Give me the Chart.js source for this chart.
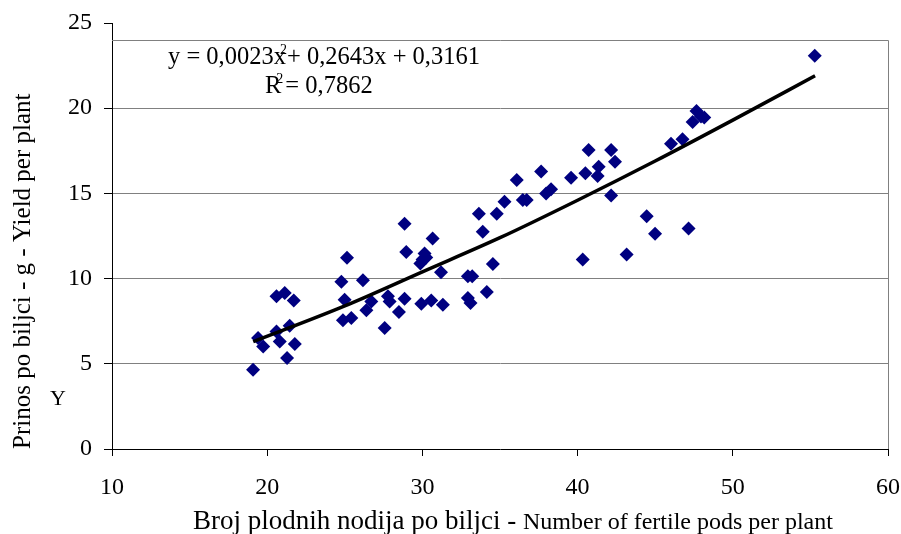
<!DOCTYPE html>
<html>
<head>
<meta charset="utf-8">
<script src="https://cdn.jsdelivr.net/npm/chart.js@4"></script>
<style>
  body { margin: 0; background: #fff; }
  #wrap { width: 901px; height: 534px; }
</style>
</head>
<body>
<div id="wrap"><canvas id="scatterChart"></canvas></div>
<script>
// number of fertile pods per plant (x) vs yield per plant in g (y)
const podsX = [19.09, 19.41, 19.74, 20.60, 20.60, 20.81, 21.13, 21.28, 21.45, 21.71, 21.78,
  24.78, 24.88, 24.99, 25.14, 25.42, 26.17, 26.39, 26.71, 27.57, 27.78, 27.89, 28.49,
  28.85, 28.96, 28.85, 29.93, 29.87, 30.14, 30.25, 30.01, 30.66, 30.57, 31.20, 31.32,
  32.93, 33.21, 32.93, 33.10, 34.15, 34.54, 33.64, 33.89, 34.79, 35.29, 36.08, 36.47,
  36.72, 37.65, 37.97, 38.29, 39.58, 40.33, 40.50, 40.71, 41.29, 41.36, 42.16, 42.16,
  42.41, 43.16, 44.45, 44.99, 46.02, 46.76, 47.15, 47.41, 47.66, 47.95, 48.16, 55.28];
const yieldY = [4.65, 6.51, 6.02, 8.96, 6.90, 6.31, 9.16, 5.34, 7.24, 8.72, 6.16,
  9.81, 7.55, 8.76, 11.22, 7.69, 9.90, 8.14, 8.66, 7.10, 8.96, 8.66, 8.04,
  13.22, 11.56, 8.82, 8.53, 10.88, 11.47, 11.24, 11.12, 12.35, 8.72, 10.37, 8.47,
  10.14, 10.14, 8.86, 8.57, 9.22, 10.86, 13.81, 12.75, 13.81, 14.51, 15.78, 14.61,
  14.61, 16.28, 15.00, 15.24, 15.92, 11.12, 16.18, 17.55, 16.02, 16.57, 17.55, 14.88,
  16.86, 11.41, 13.66, 12.63, 17.92, 18.18, 12.94, 19.19, 19.84, 19.51, 19.45, 23.08];

// trend line
const trendX = [19.1, 25, 30, 35, 40, 45, 50, 55.3];
const trendY = [6.3, 8.4, 10.4, 12.4, 14.6, 16.9, 19.3, 21.9];

const xTicks = [10, 20, 30, 40, 50, 60];
const yTicks = [0, 5, 10, 15, 20, 25];

const eqParts = ['y = 0,0023x', '2', '+ 0,2643x + 0,3161'];
const r2Parts = ['R', '2', '= 0,7862'];
const xTitleParts = ['Broj plodnih nodija po biljci - ', 'Number of fertile pods per plant'];
const yTitle = 'Prinos po biljci - g - Yield per plant';

const serif = "'Liberation Serif', 'Times New Roman', serif";

// plot frame + equation + x title
const extras = {
  id: 'extras',
  beforeDatasetsDraw(chart) {
    const {ctx, chartArea, scales} = chart;
    const yTop = Math.round(scales.y.getPixelForValue(24));
    ctx.save();
    ctx.strokeStyle = '#808080';
    ctx.lineWidth = 1;
    ctx.beginPath();
    ctx.moveTo(chartArea.left, yTop + 0.5);
    ctx.lineTo(chartArea.right + 0.5, yTop + 0.5);
    ctx.lineTo(chartArea.right + 0.5, chartArea.bottom);
    ctx.stroke();
    ctx.restore();
  },
  afterDraw(chart) {
    const {ctx, chartArea} = chart;
    ctx.save();
    ctx.fillStyle = '#000';
    ctx.textBaseline = 'alphabetic';
    ctx.textAlign = 'left';

    // equation
    let x = 168;
    let y = 64;
    ctx.font = '24.5px ' + serif;
    ctx.fillText(eqParts[0], x, y);
    x += ctx.measureText(eqParts[0]).width;
    ctx.font = '14px ' + serif;
    ctx.fillText(eqParts[1], x - 6, y - 10);
    ctx.font = '24.5px ' + serif;
    ctx.fillText(eqParts[2], x + 1, y);

    // R squared
    x = 265;
    y = 93;
    ctx.fillText(r2Parts[0], x, y);
    x += ctx.measureText(r2Parts[0]).width;
    ctx.font = '14px ' + serif;
    ctx.fillText(r2Parts[1], x - 5, y - 10);
    ctx.font = '24.5px ' + serif;
    ctx.fillText(r2Parts[2], x + 4, y);

    // stray Y label
    ctx.font = '22px ' + serif;
    ctx.textAlign = 'center';
    ctx.fillText('Y', 58, 405);

    // x title, two sizes
    ctx.textAlign = 'left';
    ctx.font = '27px ' + serif;
    const w1 = ctx.measureText(xTitleParts[0]).width;
    ctx.font = '24px ' + serif;
    const w2 = ctx.measureText(xTitleParts[1]).width;
    const cx = (chartArea.left + chartArea.right) / 2 + 13;
    x = cx - (w1 + w2) / 2;
    y = 529;
    ctx.font = '27px ' + serif;
    ctx.fillText(xTitleParts[0], x, y);
    ctx.font = '24px ' + serif;
    ctx.fillText(xTitleParts[1], x + w1, y);
    ctx.restore();
  }
};

document.addEventListener('DOMContentLoaded', function () {
  const ctx = document.getElementById('scatterChart').getContext('2d');
  new Chart(ctx, {
    type: 'scatter',
    data: {
      datasets: [{
        label: 'Y',
        data: podsX.map((v, i) => ({x: v, y: yieldY[i]})),
        backgroundColor: '#000080',
        borderColor: '#000080',
        pointStyle: 'rectRot',
        pointRadius: 7,
        borderWidth: 0,
        order: 2
      }, {
        label: 'Trend',
        data: trendX.map((v, i) => ({x: v, y: trendY[i]})),
        showLine: true,
        borderColor: '#000',
        borderWidth: 3.5,
        pointRadius: 0,
        tension: 0.4,
        cubicInterpolationMode: 'monotone',
        order: 1
      }]
    },
    options: {
      responsive: true,
      maintainAspectRatio: false,
      animation: false,
      layout: { padding: { left: 0, right: 13, top: 23, bottom: 0 } },
      plugins: {
        legend: { display: false },
        tooltip: { enabled: false }
      },
      scales: {
        x: {
          type: 'linear',
          min: 10,
          max: 60,
          afterBuildTicks: (s) => { s.ticks = xTicks.map(v => ({value: v})); },
          afterFit: (s) => {
            s.height = 85;
            s.paddingLeft = 0;
            s.paddingRight = 0;
          },
          border: { display: true, color: '#000', width: 1 },
          grid: { drawOnChartArea: false, tickLength: 7, tickColor: '#000' },
          ticks: {
            color: '#000',
            padding: 17,
            maxRotation: 0,
            font: { family: serif, size: 24 }
          }
        },
        y: {
          type: 'linear',
          min: 0,
          max: 25,
          afterBuildTicks: (s) => { s.ticks = yTicks.map(v => ({value: v})); },
          afterFit: (s) => {
            s.width = 112;
            s.paddingTop = 0;
            s.paddingBottom = 0;
          },
          border: { display: true, color: '#000', width: 1 },
          grid: {
            color: (c) => (c.tick && (c.tick.value === 0 || c.tick.value === 25)) ? 'rgba(0,0,0,0)' : '#808080',
            tickLength: 8,
            tickColor: '#000'
          },
          ticks: {
            color: '#000',
            padding: 12,
            font: { family: serif, size: 24 }
          },
          title: {
            display: true,
            text: yTitle,
            align: 'start',
            color: '#000',
            padding: { top: 8, bottom: 0 },
            font: { family: serif, size: 25 }
          }
        }
      }
    },
    plugins: [extras]
  });
});
</script>
</body>
</html>
